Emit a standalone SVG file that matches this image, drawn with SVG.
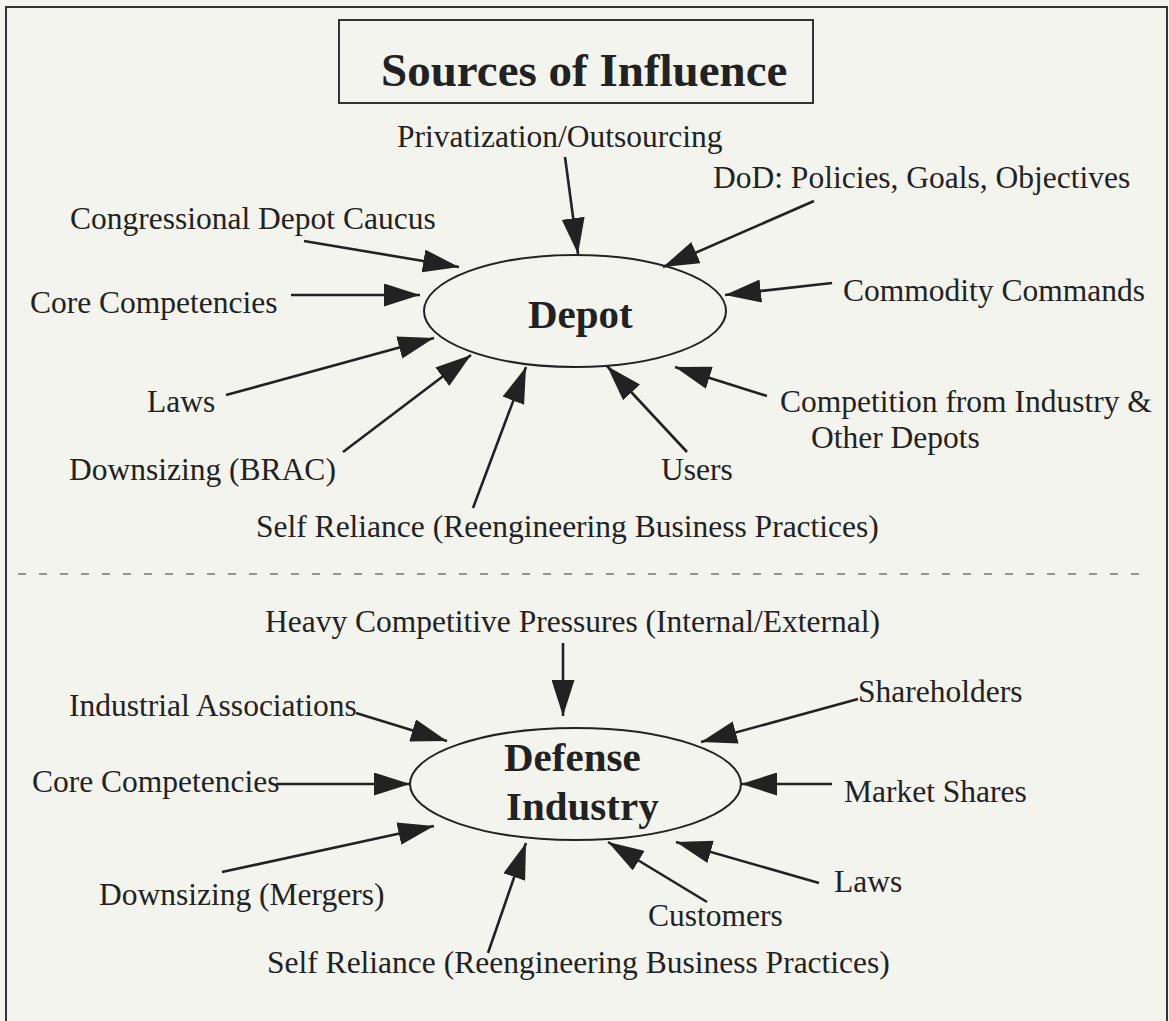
<svg xmlns="http://www.w3.org/2000/svg" width="1169" height="1021" viewBox="0 0 1169 1021">
  <style>
    text { font-family: "Liberation Serif", "Times New Roman", serif; fill: #222; }
    .lbl { font-size: 31.5px; }
    .hub { font-size: 41px; font-weight: bold; }
    .title { font-size: 47px; font-weight: bold; }
    .frame { fill: none; stroke: #333; stroke-width: 2; }
    .hubshape { fill: #f4f4ef; stroke: #222; stroke-width: 2; }
    .conn line { stroke: #222; stroke-width: 2.6; marker-end: url(#ah); }
    .divider { stroke: #777; stroke-width: 1.6; stroke-dasharray: 8 13; }
  </style>
  <defs>
    <marker id="ah" markerUnits="userSpaceOnUse" markerWidth="36" markerHeight="23" refX="36" refY="11.5" orient="auto" viewBox="0 0 36 23">
      <path d="M0,0 L36,11.5 L0,23 Z" fill="#222"/>
    </marker>
  </defs>

  <rect x="0" y="0" width="1169" height="1021" fill="#f4f4ef"/>
  <path class="frame" d="M6,1025 V7 H1167 V1025"/>
  <line class="divider" x1="18" y1="574" x2="1140" y2="574"/>

  <g id="title">
    <rect x="339" y="20" width="474" height="83" fill="none" stroke="#333" stroke-width="2"/>
    <text class="title" x="381" y="86">Sources of Influence</text>
  </g>

  <g id="depot">
    <ellipse class="hubshape" cx="575" cy="311" rx="151" ry="56"/>
    <text class="hub" x="528" y="328">Depot</text>
  </g>

  <g id="defense-industry">
    <ellipse class="hubshape" cx="575.5" cy="784" rx="165.5" ry="56"/>
    <text class="hub" x="504" y="771">Defense</text>
    <text class="hub" x="506" y="820">Industry</text>
  </g>

  <g id="privatization"><text class="lbl" x="397" y="147">Privatization/Outsourcing</text></g>
  <g id="dod"><text class="lbl" x="713" y="188">DoD: Policies, Goals, Objectives</text></g>
  <g id="congressional"><text class="lbl" x="70" y="229">Congressional Depot Caucus</text></g>
  <g id="core-depot"><text class="lbl" x="30" y="313">Core Competencies</text></g>
  <g id="commodity"><text class="lbl" x="843" y="301">Commodity Commands</text></g>
  <g id="laws-depot"><text class="lbl" x="147" y="412">Laws</text></g>
  <g id="competition">
    <text class="lbl" x="780" y="412">Competition from Industry &amp;</text>
    <text class="lbl" x="811" y="448">Other Depots</text>
  </g>
  <g id="downsizing-brac"><text class="lbl" x="69" y="480">Downsizing (BRAC)</text></g>
  <g id="users"><text class="lbl" x="661" y="480">Users</text></g>
  <g id="self-reliance-depot"><text class="lbl" x="256" y="537">Self Reliance (Reengineering Business Practices)</text></g>

  <g id="heavy-competition"><text class="lbl" x="265" y="632">Heavy Competitive Pressures (Internal/External)</text></g>
  <g id="industrial-associations"><text class="lbl" x="69" y="716">Industrial Associations</text></g>
  <g id="shareholders"><text class="lbl" x="858" y="702">Shareholders</text></g>
  <g id="core-industry"><text class="lbl" x="32" y="792">Core Competencies</text></g>
  <g id="market-shares"><text class="lbl" x="844" y="802">Market Shares</text></g>
  <g id="laws-industry"><text class="lbl" x="834" y="892">Laws</text></g>
  <g id="downsizing-mergers"><text class="lbl" x="99" y="905">Downsizing (Mergers)</text></g>
  <g id="customers"><text class="lbl" x="648" y="926">Customers</text></g>
  <g id="self-reliance-industry"><text class="lbl" x="267" y="973">Self Reliance (Reengineering Business Practices)</text></g>

  <g id="connectors" class="conn">
    <line x1="565" y1="157" x2="578" y2="254"/>
    <line x1="814" y1="201" x2="663" y2="267"/>
    <line x1="304" y1="241" x2="459" y2="267"/>
    <line x1="291" y1="295" x2="420" y2="295"/>
    <line x1="832" y1="283" x2="725" y2="295"/>
    <line x1="226" y1="395" x2="434" y2="338"/>
    <line x1="343" y1="452" x2="471" y2="355"/>
    <line x1="473" y1="508" x2="526" y2="367"/>
    <line x1="687" y1="452" x2="607" y2="366"/>
    <line x1="767" y1="396" x2="675" y2="367"/>

    <line x1="563" y1="643" x2="563" y2="716"/>
    <line x1="356" y1="713" x2="447" y2="741"/>
    <line x1="858" y1="699" x2="701" y2="742"/>
    <line x1="276" y1="784" x2="410" y2="784"/>
    <line x1="832" y1="784" x2="741" y2="784"/>
    <line x1="222" y1="872" x2="434" y2="826"/>
    <line x1="819" y1="883" x2="676" y2="842"/>
    <line x1="707" y1="902" x2="608" y2="842"/>
    <line x1="488" y1="953" x2="526" y2="843"/>
  </g>
</svg>
